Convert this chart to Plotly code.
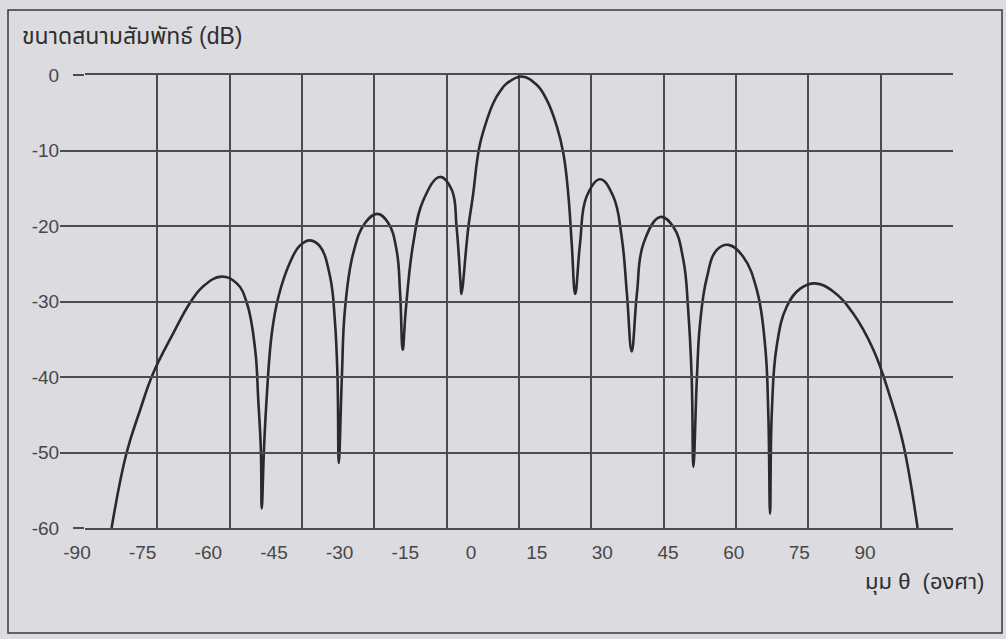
import plotly.graph_objects as go

# ---- data (angle in degrees, relative field in dB) ----
angle_deg = [-82.1, -78.7, -75.6, -72.6, -68.0, -64.2, -61.2, -57.0, -53.5, -51.2,
             -49.3, -48.6, -48.0, -47.8, -47.3, -46.7, -45.5, -44.0, -41.4, -39.1,
             -36.8, -34.5, -32.2, -31.1, -30.5, -30.2, -29.5, -28.8, -26.9, -24.2,
             -21.4, -18.9, -17.0, -16.2, -15.6, -14.9, -13.2, -10.9, -7.1, -4.4,
             -3.3, -2.4, -2.2, -1.0, -0.6, 0.5, 1.4, 2.1, 3.6, 5.1,
             6.6, 8.2, 11.6, 15.0, 17.3, 19.6, 21.1, 22.2, 23.0, 23.8,
             24.9, 26.4, 29.5, 32.5, 34.4, 35.6, 36.7, 37.9, 39.4, 43.2,
             46.2, 48.5, 49.6, 50.4, 50.8, 51.6, 52.3, 53.8, 56.1, 58.8,
             62.2, 65.3, 67.2, 67.9, 68.3, 68.7, 69.8, 72.1, 75.2, 78.6,
             82.8, 87.3, 91.9, 95.7, 98.7, 102.0]
field_db = [-60.0, -50.1, -44.4, -39.5, -34.2, -30.2, -28.0, -26.7, -27.6, -30.2,
            -36.4, -43.0, -49.7, -57.4, -49.7, -43.0, -34.2, -29.4, -24.9, -22.6,
            -21.9, -22.7, -26.7, -32.5, -40.0, -51.4, -40.0, -31.1, -23.6, -19.6,
            -18.4, -19.6, -23.2, -28.9, -36.4, -31.1, -22.3, -16.6, -13.5, -15.2,
            -20.1, -27.5, -29.0, -22.3, -20.1, -15.7, -11.3, -9.0, -6.0, -3.7,
            -2.2, -1.1, -0.2, -1.3, -3.3, -6.8, -10.4, -15.7, -22.3, -29.0,
            -22.3, -16.1, -13.8, -16.1, -21.4, -28.9, -36.6, -28.9, -22.3, -18.8,
            -20.1, -24.5, -31.1, -40.0, -51.9, -40.0, -33.0, -27.0, -23.2, -22.5,
            -24.1, -28.5, -36.0, -44.8, -58.1, -44.8, -36.0, -30.7, -28.3, -27.6,
            -28.7, -31.6, -36.4, -42.6, -48.8, -60.0]

x_tick_values = [-90, -75, -60, -45, -30, -15, 0, 15, 30, 45, 60, 75, 90]
y_tick_values = [0, -10, -20, -30, -40, -50, -60]

y_title = "ขนาดสนามสัมพัทธ์ (dB)"
x_title = "มุม θ  (องศา)"

# ---- style ----
BG = "#dcdbdf"
GRID = "#4c4c4c"
TXT = "#474747"
FONT = "Liberation Sans, Arial, Noto Sans Thai, sans-serif"

W, H = 1006, 639
ML, MR, MT, MB = 60, 53, 75, 111
plot_w = W - ML - MR
plot_h = H - MT - MB

# pixel scale of the printed angle labels
px_per_deg = 4.378
label_px_m90 = 77
def px_to_deg(px):
    return -90 + (px - label_px_m90) / px_per_deg

left_px, right_px = 85, 953
grid_step_deg = ((right_px - left_px) / 12) / px_per_deg

fig = go.Figure()
fig.add_trace(go.Scatter(
    x=angle_deg, y=field_db, mode="lines",
    line=dict(color="#2a2a2a", width=2.6, shape="spline", smoothing=1.2),
    showlegend=False, hoverinfo="skip"))
# carrier for the label axis
fig.add_trace(go.Scatter(
    x=x_tick_values, y=[None] * len(x_tick_values), xaxis="x2", yaxis="y",
    mode="markers", showlegend=False, hoverinfo="skip"))

fig.update_layout(
    width=W, height=H,
    margin=dict(l=ML, r=MR, t=MT, b=MB),
    paper_bgcolor=BG, plot_bgcolor="rgba(0,0,0,0)",
    font=dict(family=FONT, size=19, color=TXT),
    xaxis=dict(
        domain=[(left_px - ML) / plot_w, 1],
        range=[px_to_deg(left_px), px_to_deg(right_px)],
        tick0=px_to_deg(left_px), dtick=grid_step_deg,
        showticklabels=False, ticks="",
        showgrid=True, gridcolor=GRID, gridwidth=1.5,
        showline=True, linecolor=GRID, linewidth=1.5, mirror=True,
        zeroline=False),
    xaxis2=dict(
        domain=[0, 1], anchor="y",
        range=[px_to_deg(ML), px_to_deg(right_px)],
        tickmode="array", tickvals=x_tick_values,
        ticktext=[str(v) for v in x_tick_values],
        showgrid=False, showline=False, zeroline=False, ticks="",
        ticklabelstandoff=11,
        tickfont=dict(family=FONT, size=19, color=TXT)),
    yaxis=dict(
        range=[-60, 0],
        tickmode="array", tickvals=y_tick_values,
        ticktext=[str(v) for v in y_tick_values],
        ticks="outside", ticklen=11, tickwidth=1.5, tickcolor=GRID,
        showgrid=True, gridcolor=GRID, gridwidth=1.5,
        showline=False, zeroline=False,
        ticklabelstandoff=10,
        tickfont=dict(family=FONT, size=19, color=TXT)),
    shapes=[dict(type="rect", xref="paper", yref="paper",
                 x0=(8 - ML) / plot_w, x1=(1002 - ML) / plot_w,
                 y0=(528 - 633) / plot_h, y1=(528 - 10) / plot_h,
                 line=dict(color="#3a3a3a", width=1.5), layer="below")],
    annotations=[
        dict(text=y_title, xref="paper", yref="paper",
             x=(20 - ML) / plot_w, y=(528 - 36) / plot_h,
             xanchor="left", yanchor="middle", showarrow=False,
             font=dict(family=FONT, size=23, color="#2e2e2e")),
        dict(text=x_title, xref="paper", yref="paper",
             x=(986 - ML) / plot_w, y=(528 - 582) / plot_h,
             xanchor="right", yanchor="middle", showarrow=False,
             font=dict(family=FONT, size=22, color="#2e2e2e")),
    ],
)

fig.write_html("out.html", config={"displayModeBar": False},
               post_script="document.body.style.margin='0';")
